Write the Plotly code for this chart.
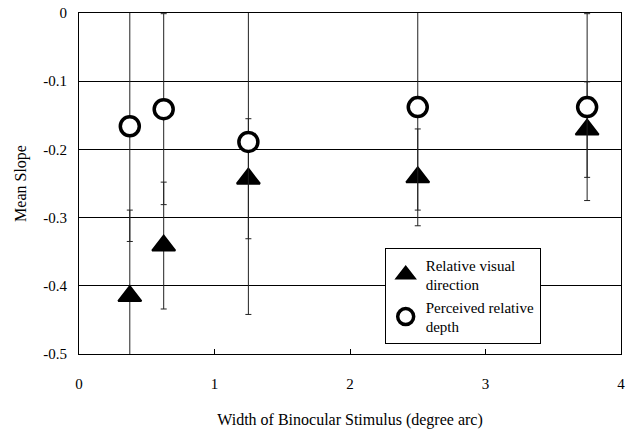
import plotly.graph_objects as go

# Data
width_deg = [0.375, 0.625, 1.25, 2.5, 3.75]
rvd_slope = [-0.415, -0.341, -0.243, -0.241, -0.171]
rvd_err = [0.126, 0.093, 0.088, 0.071, 0.070]
prd_slope = [-0.166, -0.141, -0.189, -0.138, -0.138]
prd_err = [0.169, 0.140, 0.253, 0.151, 0.137]

x_ticks = [0, 1, 2, 3, 4]
y_ticks = [0, -0.1, -0.2, -0.3, -0.4, -0.5]
y_ticktext = ["0", "-0.1", "-0.2", "-0.3", "-0.4", "-0.5"]

FONT = "Liberation Serif"

fig = go.Figure()
fig.add_trace(go.Scatter(
    x=width_deg, y=rvd_slope, mode="markers",
    name="Relative visual<br>direction",
    marker=dict(symbol="triangle-up", size=20, color="black",
                line=dict(color="black", width=2)),
    error_y=dict(type="data", array=rvd_err, visible=True,
                 color="#222", thickness=1, width=3),
    cliponaxis=False,
))
fig.add_trace(go.Scatter(
    x=width_deg, y=prd_slope, mode="markers",
    name="Perceived relative<br>depth",
    marker=dict(symbol="circle", size=19, color="white",
                line=dict(color="black", width=3.5)),
    error_y=dict(type="data", array=prd_err, visible=True,
                 color="#222", thickness=1, width=3),
    cliponaxis=False,
))

fig.update_layout(
    width=628, height=430,
    margin=dict(l=79, r=3, t=13, b=76),
    paper_bgcolor="white", plot_bgcolor="white",
    font=dict(family=FONT, size=14, color="black"),
    showlegend=True,
    legend=dict(
        x=0.564, y=0.312, xanchor="left", yanchor="top",
        bgcolor="white", bordercolor="black", borderwidth=1,
        font=dict(family=FONT, size=15, color="black"),
        itemsizing="trace", tracegroupgap=0,
    ),
    xaxis=dict(
        range=[0, 4], tickvals=x_ticks, ticktext=[str(v) for v in x_ticks],
        showgrid=False, zeroline=False,
        showline=True, linecolor="black", linewidth=1, mirror=True,
        ticks="inside", ticklen=5, tickcolor="black",
        ticklabelstandoff=16, ticklabeloverflow="allow",
        tickfont=dict(family=FONT, size=15),
        title=dict(text="Width of Binocular Stimulus (degree arc)",
                   font=dict(family=FONT, size=16), standoff=22),
    ),
    yaxis=dict(
        range=[-0.5, 0], tickvals=y_ticks, ticktext=y_ticktext,
        showgrid=True, gridcolor="black", gridwidth=1, zeroline=False,
        showline=True, linecolor="black", linewidth=1, mirror=True,
        ticks="", ticklabelstandoff=8,
        tickfont=dict(family=FONT, size=15),
        title=dict(text="Mean Slope", font=dict(family=FONT, size=16), standoff=12),
    ),
)

fig.write_html("out.html")
